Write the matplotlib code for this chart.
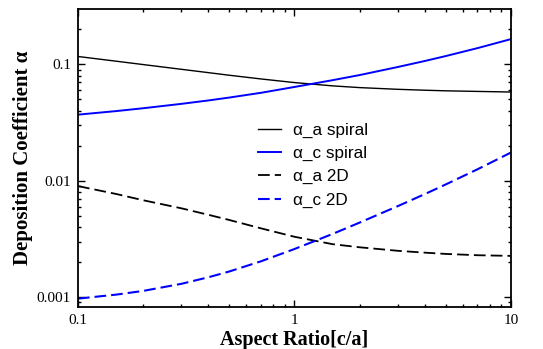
import matplotlib
matplotlib.use("Agg")
import matplotlib.pyplot as plt
from matplotlib.ticker import FixedLocator, FixedFormatter, LogLocator, NullFormatter

# aspect ratio c/a
aspect_ratio = [0.1, 0.15, 0.2, 0.3, 0.4, 0.5, 0.7, 1, 1.5, 2, 3, 4, 5, 7, 10]

# deposition coefficients
alpha_a_spiral = [0.117, 0.1066, 0.0997, 0.0908, 0.0850, 0.0807, 0.0750, 0.0698,
                  0.0654, 0.0632, 0.0611, 0.0600, 0.0593, 0.0586, 0.0579]
alpha_c_spiral = [0.0370, 0.0397, 0.0420, 0.0458, 0.0490, 0.0519, 0.0570, 0.0640,
                  0.0732, 0.0810, 0.0950, 0.1070, 0.1180, 0.1380, 0.1650]
alpha_a_2d = [0.0090, 0.0077, 0.0068, 0.0058, 0.0051, 0.0046, 0.0039, 0.0033,
              0.00285, 0.00268, 0.00250, 0.00241, 0.00235, 0.00229, 0.00226]
alpha_c_2d = [0.00097, 0.00105, 0.00113, 0.00130, 0.00148, 0.00166, 0.00203, 0.00259,
              0.00349, 0.00437, 0.00605, 0.00768, 0.00930, 0.01254, 0.01748]

series_labels = ["α_a spiral", "α_c spiral", "α_a 2D", "α_c 2D"]
y_ticks = [0.001, 0.01, 0.1]
y_tick_labels = ["0.001", "0.01", "0.1"]
x_ticks = [0.1, 1, 10]
x_tick_labels = ["0.1", "1", "10"]

fig = plt.figure(figsize=(5.43, 3.49), dpi=100)
ax = fig.add_axes([0.1436, 0.120, 0.7974, 0.854])

ax.plot(aspect_ratio, alpha_a_spiral, color="black", lw=1.0, label=series_labels[0])
ax.plot(aspect_ratio, alpha_c_spiral, color="#0000ff", lw=1.4, label=series_labels[1])
ax.plot(aspect_ratio, alpha_a_2d, color="black", lw=1.3, dashes=(6.5, 2.8), label=series_labels[2])
ax.plot(aspect_ratio, alpha_c_2d, color="#0000ff", lw=1.5, dashes=(5.6, 2.4), label=series_labels[3])

ax.set_xscale("log")
ax.set_yscale("log")
ax.set_xlim(0.1, 10)
ax.set_ylim(8.2e-4, 0.299)

serif = ["Liberation Serif", "DejaVu Serif"]
ax.xaxis.set_major_locator(FixedLocator(x_ticks))
ax.xaxis.set_major_formatter(FixedFormatter(x_tick_labels))
ax.yaxis.set_major_locator(FixedLocator(y_ticks))
ax.yaxis.set_major_formatter(FixedFormatter(y_tick_labels))
ax.xaxis.set_minor_locator(LogLocator(base=10, subs=range(2, 10)))
ax.yaxis.set_minor_locator(LogLocator(base=10, subs=range(2, 10)))
ax.xaxis.set_minor_formatter(NullFormatter())
ax.yaxis.set_minor_formatter(NullFormatter())

ax.tick_params(which="both", direction="in", top=True, right=True, width=1.0)
ax.tick_params(which="major", length=5, labelsize=11, pad=5)
ax.tick_params(which="minor", length=2.5)
for lbl in ax.get_xticklabels() + ax.get_yticklabels():
    lbl.set_family(serif)
for spine in ax.spines.values():
    spine.set_linewidth(1.3)

ax.set_xlabel("Aspect Ratio[c/a]", family=serif, fontweight="bold", fontsize=14.5, labelpad=2)
ax.set_ylabel("Deposition Coefficient α", family=serif, fontweight="bold", fontsize=15, labelpad=3)

ax.legend(
    loc="center",
    bbox_to_anchor=(0.542, 0.476),
    frameon=False,
    prop={"family": ["Liberation Sans", "DejaVu Sans"], "size": 12.3},
    handlelength=1.35,
    handletextpad=0.7,
    labelspacing=0.48,
)

fig.savefig("out.png", dpi=100)
